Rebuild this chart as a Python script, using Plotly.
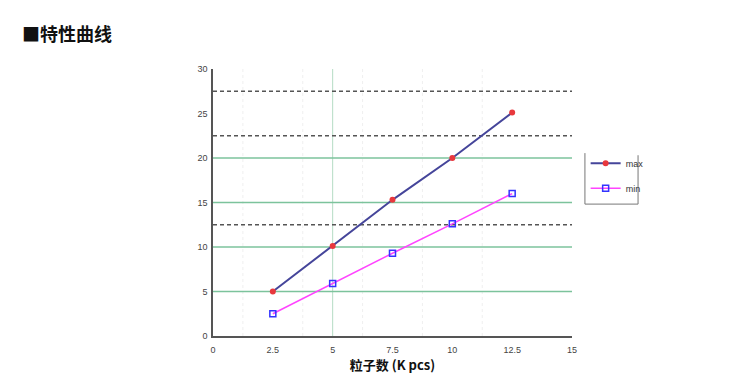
import plotly.graph_objects as go

x_vals = [2.5, 5, 7.5, 10, 12.5]
max_vals = [5.0, 10.1, 15.3, 20.0, 25.1]
min_vals = [2.5, 5.9, 9.3, 12.6, 16.0]
x_ticks = [0, 2.5, 5, 7.5, 10, 12.5, 15]
x_tick_text = ["0", "2.5", "5", "7.5", "10", "12.5", "15"]
y_ticks = [0, 5, 10, 15, 20, 25, 30]
green_levels = [5, 10, 15, 20]
dashed_levels = [12.5, 22.5, 27.5]
green_vlines = [5]
faint_vlines = [1.25, 3.75, 6.25, 8.75, 11.25]

fig = go.Figure()
fig.add_trace(go.Scatter(
    x=x_vals, y=max_vals, name="max", mode="lines+markers",
    line=dict(color="#45459a", width=2),
    marker=dict(color="#e8383d", size=6, symbol="circle"),
    legendgroup="a"))
fig.add_trace(go.Scatter(
    x=x_vals, y=min_vals, name="min", mode="lines+markers",
    line=dict(color="#ff44ff", width=1.5),
    marker=dict(color="#3333ff", size=6, symbol="square-open",
                line=dict(color="#3333ff", width=1.5)),
    legendgroup="b"))

shapes = []
for v in faint_vlines:
    shapes.append(dict(type="line", xref="x", yref="paper", x0=v, x1=v, y0=0, y1=1,
                       line=dict(color="#efefef", width=1, dash="dot"), layer="below"))
for v in green_vlines:
    shapes.append(dict(type="line", xref="x", yref="paper", x0=v, x1=v, y0=0, y1=1,
                       line=dict(color="#b5dcc4", width=1), layer="below"))
for v in green_levels:
    shapes.append(dict(type="line", xref="paper", yref="y", x0=0, x1=1, y0=v, y1=v,
                       line=dict(color="#7cc39c", width=1.5), layer="below"))
for v in dashed_levels:
    shapes.append(dict(type="line", xref="paper", yref="y", x0=0, x1=1, y0=v, y1=v,
                       line=dict(color="#555555", width=1.3, dash="4px,3px"), layer="below"))

# legend box (left, bottom, right borders)
L, R, T, B = 1.036, 1.184, 0.685, 0.494
shapes.append(dict(type="line", xref="paper", yref="paper", x0=L, x1=L, y0=B, y1=T,
                   line=dict(color="#777777", width=1)))
shapes.append(dict(type="line", xref="paper", yref="paper", x0=L, x1=R, y0=B, y1=B,
                   line=dict(color="#777777", width=1)))
shapes.append(dict(type="line", xref="paper", yref="paper", x0=R, x1=R, y0=B, y1=T - 0.008,
                   line=dict(color="#777777", width=1)))

fig.update_layout(
    width=753, height=381,
    margin=dict(l=213, r=181, t=69, b=45),
    paper_bgcolor="white", plot_bgcolor="white",
    shapes=shapes,
    font=dict(family="Liberation Sans", size=9, color="#444444"),
    title=dict(text="<b>■特性曲线</b>", x=0, xref="container", xanchor="left",
               y=1 - 35/381, yanchor="middle",
               font=dict(family="Noto Sans CJK SC", size=18, color="#111111"),
               pad=dict(l=22)),
    xaxis=dict(range=[0, 15], tickvals=x_ticks, ticktext=x_tick_text,
               showgrid=False, zeroline=False, showline=True, linecolor="#555555",
               linewidth=1.5, ticks="", ticklabelstandoff=4,
               tickfont=dict(size=9, color="#444444"),
               title=dict(text="<b>粒子数 (K pcs)</b>", standoff=2,
                          font=dict(family="Noto Sans CJK SC", size=13, color="#111111"))),
    yaxis=dict(range=[0, 30], tickvals=y_ticks, showgrid=False, zeroline=False,
               showline=True, linecolor="#555555", linewidth=1.5, ticks="",
               ticklabelstandoff=2, tickfont=dict(size=9, color="#444444")),
    showlegend=True,
    legend=dict(x=L + 0.002, y=T + 0.016, xanchor="left", yanchor="top",
                bgcolor="rgba(0,0,0,0)", borderwidth=0, itemwidth=30,
                tracegroupgap=6, traceorder="grouped",
                font=dict(size=9, color="#333333")),
)

fig.write_html("out.html")
